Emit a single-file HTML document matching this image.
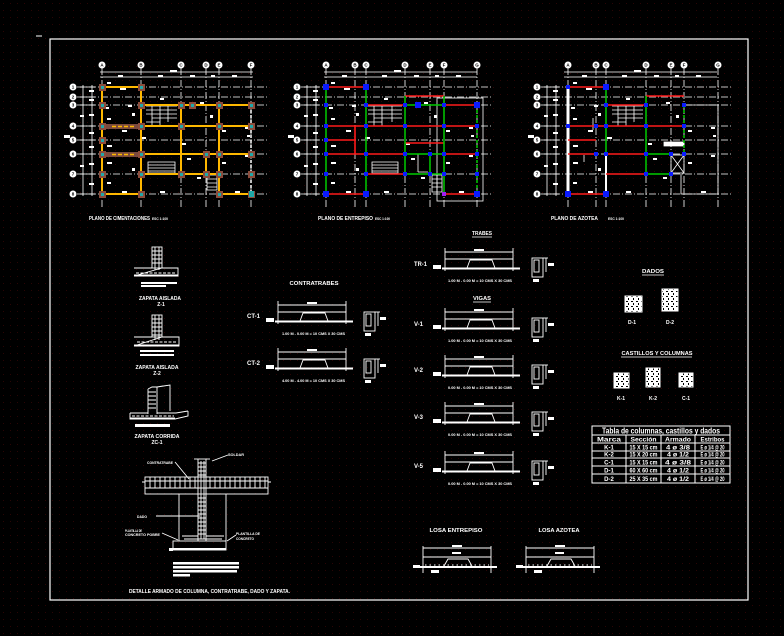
<!DOCTYPE html>
<html><head><meta charset="utf-8"><style>
html,body{margin:0;padding:0;background:#000;}
svg{display:block}
text{font-family:"Liberation Sans",sans-serif;font-weight:bold;fill:#fff}
text.b{fill:#000;font-size:4.5px}
</style></head><body>
<svg width="784" height="636" viewBox="0 0 784 636" xmlns="http://www.w3.org/2000/svg" xmlns:xlink="http://www.w3.org/1999/xlink">
<defs>
<pattern id="dots" width="7" height="7" patternUnits="userSpaceOnUse"><rect x="3" y="3" width="1" height="1" fill="#2a0505"/></pattern>
<pattern id="nz" width="5" height="5" patternUnits="userSpaceOnUse"><rect width="5" height="5" fill="#fff"/><rect x="1" y="1" width="2" height="1" fill="#000"/><rect x="3" y="3" width="1" height="2" fill="#000"/></pattern>

<g id="rows">
 <g stroke="#fff" stroke-width="0.8" stroke-dasharray="7 2 1 2" fill="none">
  <line x1="77" y1="87" x2="267" y2="87"/><line x1="77" y1="97" x2="267" y2="97"/>
  <line x1="77" y1="105" x2="267" y2="105"/><line x1="77" y1="126" x2="267" y2="126"/>
  <line x1="77" y1="140" x2="267" y2="140"/><line x1="77" y1="154" x2="267" y2="154"/>
  <line x1="77" y1="174" x2="267" y2="174"/><line x1="77" y1="194" x2="267" y2="194"/>
 </g>
 <g fill="#fff">
  <circle cx="73" cy="87" r="3.5"/><circle cx="73" cy="97" r="3.5"/><circle cx="73" cy="105" r="3.5"/><circle cx="73" cy="126" r="3.5"/>
  <circle cx="73" cy="140" r="3.5"/><circle cx="73" cy="154" r="3.5"/><circle cx="73" cy="174" r="3.5"/><circle cx="73" cy="194" r="3.5"/>
 </g>
 <g text-anchor="middle">
  <text class="b" x="73" y="88.6">1</text><text class="b" x="73" y="98.6">2</text><text class="b" x="73" y="106.6">3</text><text class="b" x="73" y="127.6">4</text>
  <text class="b" x="73" y="141.6">5</text><text class="b" x="73" y="155.6">6</text><text class="b" x="73" y="175.6">7</text><text class="b" x="73" y="195.6">8</text>
 </g>
 <g stroke="#fff" stroke-width="0.8">
  <line x1="83" y1="85" x2="83" y2="196"/><line x1="92" y1="85" x2="92" y2="196"/>
  <line x1="80" y1="87" x2="95" y2="87"/><line x1="80" y1="97" x2="95" y2="97"/><line x1="80" y1="105" x2="95" y2="105"/>
  <line x1="80" y1="126" x2="95" y2="126"/><line x1="80" y1="140" x2="95" y2="140"/><line x1="80" y1="154" x2="95" y2="154"/>
  <line x1="80" y1="174" x2="95" y2="174"/><line x1="80" y1="194" x2="95" y2="194"/>
  <line x1="100" y1="72" x2="253" y2="72"/><line x1="100" y1="77" x2="253" y2="77"/>
 </g>
 <g fill="#fff">
  <rect x="89" y="90" width="5" height="2"/><rect x="89" y="99" width="5" height="2"/><rect x="89" y="114" width="5" height="2"/>
  <rect x="89" y="132" width="5" height="2"/><rect x="89" y="146" width="5" height="2"/><rect x="89" y="163" width="5" height="2"/>
  <rect x="89" y="183" width="5" height="2"/><rect x="80" y="115" width="4" height="2"/><rect x="80" y="165" width="4" height="2"/>
  <rect x="64" y="135" width="6" height="3"/>
  <rect x="170" y="70" width="7" height="2"/><rect x="118" y="75" width="5" height="2"/><rect x="158" y="75" width="5" height="2"/>
  <rect x="190" y="75" width="5" height="2"/><rect x="211" y="75" width="4" height="2"/><rect x="232" y="75" width="5" height="2"/>
 </g>
</g>

<g id="tags" fill="#fff">
 <rect x="107" y="82" width="4" height="2"/><rect x="120" y="88" width="6" height="2"/><rect x="105" y="107" width="4" height="2"/>
 <rect x="160" y="98" width="4" height="2"/><rect x="128" y="105" width="4" height="2"/><rect x="107" y="118" width="4" height="2"/>
 <rect x="122" y="130" width="5" height="2"/><rect x="107" y="145" width="5" height="2"/><rect x="182" y="143" width="4" height="2"/>
 <rect x="187" y="158" width="4" height="2"/><rect x="107" y="162" width="5" height="2"/><rect x="107" y="182" width="4" height="2"/>
 <rect x="122" y="191" width="5" height="2"/><rect x="160" y="191" width="5" height="2"/><rect x="235" y="191" width="5" height="2"/>
 <rect x="222" y="130" width="4" height="2"/><rect x="245" y="127" width="4" height="2"/><rect x="222" y="162" width="4" height="2"/>
 <rect x="247" y="135" width="3" height="2"/><rect x="197" y="177" width="4" height="2"/><rect x="200" y="102" width="4" height="2"/>
 <rect x="141" y="137" width="5" height="2"/><rect x="245" y="155" width="4" height="2"/><rect x="132" y="113" width="3" height="3"/>
 <rect x="132" y="168" width="3" height="3"/><rect x="210" y="115" width="3" height="3"/>
</g>

<g id="bm" stroke="#fff" fill="none" stroke-width="0.9">
 <line x1="0" y1="-4" x2="0" y2="19"/><line x1="68" y1="-4" x2="68" y2="19"/>
 <line x1="0" y1="0" x2="68" y2="0"/>
 <line x1="0" y1="7" x2="68" y2="7"/>
 <line x1="-3" y1="16.5" x2="75" y2="16.5" stroke-width="2"/>
 <polyline points="22,16 25,8 47,8 50,16"/>
 <rect x="29" y="-3" width="10" height="2" fill="#fff" stroke="none"/>
 <rect x="-12" y="13" width="8" height="4" fill="#fff" stroke="none"/>
</g>
<g id="sec" stroke="#fff" fill="none" stroke-width="0.9">
 <rect x="0" y="0" width="11" height="19"/>
 <rect x="2" y="2" width="5" height="12"/>
 <line x1="14" y1="0" x2="14" y2="14"/><line x1="11" y1="0" x2="16" y2="0"/>
 <rect x="16" y="5" width="6" height="3" fill="#fff" stroke="none"/>
 <rect x="1" y="21" width="6" height="3" fill="#fff" stroke="none"/>
</g>
<g id="losa" stroke="#fff" fill="none" stroke-width="0.9">
 <line x1="0" y1="-2" x2="0" y2="25"/><line x1="68" y1="-2" x2="68" y2="25"/>
 <line x1="0" y1="0" x2="68" y2="0"/><line x1="0" y1="9" x2="68" y2="9"/>
 <line x1="-4" y1="19" x2="74" y2="19" stroke-width="2"/>
 <polyline points="21,18 25,11 45,11 49,18"/>
 <rect x="29" y="-3" width="10" height="2" fill="#fff" stroke="none"/>
 <rect x="-10" y="17" width="7" height="3" fill="#fff" stroke="none"/>
 <rect x="8" y="22" width="8" height="3" fill="#fff" stroke="none"/>
 <rect x="29" y="4" width="9" height="2" fill="#fff" stroke="none"/>
 <g stroke-dasharray="1.5 3"><line x1="2" y1="17" x2="66" y2="17"/></g>
</g>
</defs>

<rect width="784" height="636" fill="#000"/>
<rect width="784" height="636" fill="url(#dots)"/>

<!-- frame -->
<rect x="50" y="39" width="698" height="561" fill="none" stroke="#fff" stroke-width="1.2"/>
<line x1="36" y1="36" x2="42" y2="36" stroke="#fff" stroke-width="1"/>

<!-- ============ PLAN 1 ============ -->
<use xlink:href="#rows"/>
<g stroke="#fff" stroke-width="0.8" stroke-dasharray="7 2 1 2">
 <line x1="102" y1="68" x2="102" y2="207"/><line x1="141" y1="68" x2="141" y2="207"/><line x1="181" y1="68" x2="181" y2="207"/>
 <line x1="206" y1="68" x2="206" y2="207"/><line x1="219" y1="68" x2="219" y2="207"/><line x1="251" y1="68" x2="251" y2="207"/>
</g>
<g fill="#fff">
 <circle cx="102" cy="65" r="3.5"/><circle cx="141" cy="65" r="3.5"/><circle cx="181" cy="65" r="3.5"/>
 <circle cx="206" cy="65" r="3.5"/><circle cx="219" cy="65" r="3.5"/><circle cx="251" cy="65" r="3.5"/>
</g>
<g text-anchor="middle">
 <text class="b" x="102" y="66.6">A</text><text class="b" x="141" y="66.6">B</text><text class="b" x="181" y="66.6">C</text>
 <text class="b" x="206" y="66.6">D</text><text class="b" x="219" y="66.6">E</text><text class="b" x="251" y="66.6">F</text>
</g>
<use xlink:href="#tags"/>
<g stroke="#fff" stroke-width="0.8" fill="none">
 <path d="M146 106H177M146 110H177M146 114H177M152 118H177M146 122H160M160 106V126M152 106V126M168 106V122"/>
 <path d="M148 162H175V173H148ZM148 165H175M148 168H175M148 171H175"/>
 <path d="M207 175H217V190H207ZM207 179H217M207 183H217M207 187H217"/>
</g>
<g stroke="#ffb800" stroke-width="2" fill="none">
 <path d="M102 87V194M141 87V194M102 87H141M141 105H251M102 126H251M102 154H251M141 174H219M102 194H141M219 194H251M181 105V174M219 105V194M206 154V174"/>
</g>
<path d="M251 105V194" stroke="#fff" stroke-width="1.5" stroke-dasharray="3 2"/>
<g fill="#7a4a3e">
 <rect x="105" y="124" width="35" height="5"/><rect x="105" y="152" width="35" height="5"/>
</g>
<path d="M112 126.5H135M112 154.5H135" stroke="#ffb800" stroke-width="1.5" stroke-dasharray="4 2"/>
<g fill="#8c4c3c">
 <rect x="99" y="84" width="7" height="7"/><rect x="138" y="84" width="7" height="7"/>
 <rect x="99" y="102" width="7" height="7"/><rect x="138" y="102" width="7" height="7"/><rect x="178" y="102" width="7" height="7"/><rect x="189" y="102" width="7" height="7"/><rect x="216" y="102" width="7" height="7"/><rect x="248" y="102" width="7" height="7"/>
 <rect x="99" y="123" width="7" height="7"/><rect x="138" y="123" width="7" height="7"/><rect x="178" y="123" width="7" height="7"/><rect x="216" y="123" width="7" height="7"/><rect x="248" y="123" width="7" height="7"/>
 <rect x="99" y="137" width="7" height="7"/>
 <rect x="99" y="151" width="7" height="7"/><rect x="138" y="151" width="7" height="7"/><rect x="203" y="151" width="7" height="7"/><rect x="216" y="151" width="7" height="7"/><rect x="248" y="151" width="7" height="7"/>
 <rect x="99" y="171" width="7" height="7"/><rect x="138" y="171" width="7" height="7"/><rect x="178" y="171" width="7" height="7"/><rect x="203" y="171" width="7" height="7"/><rect x="216" y="171" width="7" height="7"/><rect x="248" y="171" width="7" height="7"/>
 <rect x="99" y="191" width="7" height="7"/><rect x="138" y="191" width="7" height="7"/><rect x="216" y="191" width="7" height="7"/><rect x="248" y="191" width="7" height="7"/>
</g>
<g fill="#20a8a8">
 <rect x="101" y="86" width="3" height="3"/><rect x="140" y="86" width="3" height="3"/>
 <rect x="101" y="104" width="3" height="3"/><rect x="140" y="104" width="3" height="3"/><rect x="180" y="104" width="3" height="3"/><rect x="191" y="104" width="3" height="3"/><rect x="218" y="104" width="3" height="3"/><rect x="250" y="104" width="3" height="3"/>
 <rect x="101" y="125" width="3" height="3"/><rect x="140" y="125" width="3" height="3"/><rect x="180" y="125" width="3" height="3"/><rect x="218" y="125" width="3" height="3"/><rect x="250" y="125" width="3" height="3"/>
 <rect x="101" y="139" width="3" height="3"/>
 <rect x="101" y="153" width="3" height="3"/><rect x="140" y="153" width="3" height="3"/><rect x="205" y="153" width="3" height="3"/><rect x="218" y="153" width="3" height="3"/><rect x="250" y="153" width="3" height="3"/>
 <rect x="101" y="173" width="3" height="3"/><rect x="140" y="173" width="3" height="3"/><rect x="180" y="173" width="3" height="3"/><rect x="205" y="173" width="3" height="3"/><rect x="218" y="173" width="3" height="3"/><rect x="250" y="173" width="3" height="3"/>
 <rect x="101" y="193" width="3" height="3"/><rect x="140" y="193" width="3" height="3"/><rect x="218" y="193" width="3" height="3"/><rect x="249" y="191" width="5" height="6"/>
</g>
<text x="89" y="220" font-size="5" textLength="61" lengthAdjust="spacingAndGlyphs">PLANO DE CIMENTACIONES</text>
<text x="152" y="220" font-size="3.5" textLength="16" lengthAdjust="spacingAndGlyphs">ESC 1:100</text>

<!-- ============ PLAN 2 ============ -->
<use xlink:href="#rows" x="224"/>
<g stroke="#fff" stroke-width="0.8" stroke-dasharray="7 2 1 2">
 <line x1="326" y1="68" x2="326" y2="207"/><line x1="355" y1="68" x2="355" y2="207"/><line x1="366" y1="68" x2="366" y2="207"/>
 <line x1="405" y1="68" x2="405" y2="207"/><line x1="430" y1="68" x2="430" y2="207"/><line x1="444" y1="68" x2="444" y2="207"/><line x1="477" y1="68" x2="477" y2="207"/>
</g>
<g fill="#fff">
 <circle cx="326" cy="65" r="3.5"/><circle cx="355" cy="65" r="3.5"/><circle cx="366" cy="65" r="3.5"/><circle cx="405" cy="65" r="3.5"/>
 <circle cx="430" cy="65" r="3.5"/><circle cx="444" cy="65" r="3.5"/><circle cx="477" cy="65" r="3.5"/>
</g>
<g text-anchor="middle">
 <text class="b" x="326" y="66.6">A</text><text class="b" x="355" y="66.6">B</text><text class="b" x="366" y="66.6">C</text><text class="b" x="405" y="66.6">D</text>
 <text class="b" x="430" y="66.6">E</text><text class="b" x="444" y="66.6">F</text><text class="b" x="477" y="66.6">G</text>
</g>
<use xlink:href="#tags" x="224"/>
<g stroke="#fff" stroke-width="0.8" fill="none">
 <rect x="437" y="98" width="46" height="103"/>
 <path d="M368 106H402M368 110H402M368 114H402M374 118H402M368 122H382M382 106V126M374 106V126M392 106V122"/>
 <path d="M372 162H398V173H372ZM372 165H398M372 168H398M372 171H398"/>
 <path d="M432 175H442V192H432ZM432 179H442M432 183H442M432 187H442M437 175V192"/>
 <path d="M418 154V172M418 172H428"/>
</g>
<g stroke="#ff1a1a" stroke-width="1.6" fill="none">
 <path d="M326 87H366M368 105H404M405 96H444M444 105H476M326 126H477M326 140H355M405 143H444M326 154H405M444 154H477M366 174H405M326 194H366M444 194H477M355 126V154"/>
</g>
<g stroke="#00cc00" stroke-width="1.5" fill="none">
 <path d="M326 87V194M366 87V194M405 96V174M444 96V194M405 105H444M405 154H444M405 174H444M430 154V174"/>
 <path d="M477 105V194" stroke-dasharray="3 2"/>
</g>
<g fill="#0a1aff">
 <rect x="323" y="84" width="6" height="6"/><rect x="363" y="84" width="6" height="6"/><rect x="323" y="191" width="6" height="6"/><rect x="363" y="191" width="6" height="6"/>
 <rect x="474" y="102" width="6" height="6"/><rect x="474" y="191" width="6" height="6"/><rect x="415" y="102" width="6" height="6"/>
 <rect x="324" y="103" width="4" height="4"/><rect x="364" y="103" width="4" height="4"/><rect x="403" y="103" width="4" height="4"/><rect x="442" y="103" width="4" height="4"/>
 <rect x="324" y="124" width="4" height="4"/><rect x="364" y="124" width="4" height="4"/><rect x="403" y="124" width="4" height="4"/><rect x="442" y="124" width="4" height="4"/><rect x="475" y="124" width="4" height="4"/>
 <rect x="324" y="138" width="4" height="4"/>
 <rect x="324" y="152" width="4" height="4"/><rect x="364" y="152" width="4" height="4"/><rect x="403" y="152" width="4" height="4"/><rect x="428" y="152" width="4" height="4"/><rect x="442" y="152" width="4" height="4"/><rect x="475" y="152" width="4" height="4"/>
 <rect x="324" y="172" width="4" height="4"/><rect x="364" y="172" width="4" height="4"/><rect x="403" y="172" width="4" height="4"/><rect x="428" y="172" width="4" height="4"/><rect x="442" y="172" width="4" height="4"/><rect x="475" y="172" width="4" height="4"/>
</g>
<rect x="442" y="192" width="4" height="4" fill="#a020f0"/>
<text x="318" y="220" font-size="5" textLength="55" lengthAdjust="spacingAndGlyphs">PLANO DE ENTREPISO</text>
<text x="375" y="220" font-size="3.5" textLength="15" lengthAdjust="spacingAndGlyphs">ESC 1:100</text>

<!-- ============ PLAN 3 ============ -->
<use xlink:href="#rows" x="464"/>
<g stroke="#fff" stroke-width="0.8" stroke-dasharray="7 2 1 2">
 <line x1="568" y1="68" x2="568" y2="207"/><line x1="596" y1="68" x2="596" y2="207"/><line x1="606" y1="68" x2="606" y2="207"/>
 <line x1="646" y1="68" x2="646" y2="207"/><line x1="671" y1="68" x2="671" y2="207"/><line x1="684" y1="68" x2="684" y2="207"/><line x1="718" y1="68" x2="718" y2="207"/>
</g>
<g fill="#fff">
 <circle cx="568" cy="65" r="3.5"/><circle cx="596" cy="65" r="3.5"/><circle cx="606" cy="65" r="3.5"/><circle cx="646" cy="65" r="3.5"/>
 <circle cx="671" cy="65" r="3.5"/><circle cx="684" cy="65" r="3.5"/><circle cx="718" cy="65" r="3.5"/>
</g>
<g text-anchor="middle">
 <text class="b" x="568" y="66.6">A</text><text class="b" x="596" y="66.6">B</text><text class="b" x="606" y="66.6">C</text><text class="b" x="646" y="66.6">D</text>
 <text class="b" x="671" y="66.6">E</text><text class="b" x="684" y="66.6">F</text><text class="b" x="718" y="66.6">G</text>
</g>
<use xlink:href="#tags" x="466"/>
<g stroke="#fff" stroke-width="0.8" fill="none">
 <path d="M612 106H643M612 110H643M612 114H643M618 118H643M612 122H626M626 106V126M618 106V126M634 106V122"/>
 <path d="M684 105H718V194M681 174V194H718"/>
 <rect x="671" y="155" width="13" height="18"/><path d="M671 155L684 173M684 155L671 173"/>
 <path d="M664 142H684V146H664Z" fill="#fff"/>
 <path d="M593 118V130M584 155V162"/>
</g>
<path d="M568 87V194" stroke="#fff" stroke-width="3"/>
<path d="M606 154V194" stroke="#fff" stroke-width="2"/>
<g stroke="#ff1a1a" stroke-width="1.6" fill="none">
 <path d="M568 87H606M606 105H646M646 96H684M568 126H684M568 140H596M568 154H596M606 154H646M606 174H646M568 194H606"/>
</g>
<g stroke="#00cc00" stroke-width="1.5" fill="none">
 <path d="M606 87V154M646 96V174M646 154H671M646 174H671"/>
 <path d="M684 105V154" stroke-dasharray="3 2"/>
</g>
<g fill="#0a1aff">
 <rect x="565" y="191" width="6" height="6"/><rect x="603" y="84" width="6" height="6"/><rect x="603" y="191" width="6" height="6"/>
 <rect x="566" y="85" width="4" height="4"/>
 <rect x="604" y="103" width="4" height="4"/><rect x="644" y="103" width="4" height="4"/><rect x="682" y="103" width="4" height="4"/>
 <rect x="566" y="124" width="4" height="4"/><rect x="594" y="124" width="4" height="4"/><rect x="604" y="124" width="4" height="4"/><rect x="644" y="124" width="4" height="4"/><rect x="682" y="124" width="4" height="4"/>
 <rect x="594" y="152" width="4" height="4"/><rect x="604" y="152" width="4" height="4"/><rect x="644" y="152" width="4" height="4"/><rect x="669" y="152" width="4" height="4"/><rect x="682" y="152" width="4" height="4"/>
 <rect x="644" y="172" width="4" height="4"/><rect x="669" y="172" width="4" height="4"/>
</g>
<text x="551" y="220" font-size="5" textLength="47" lengthAdjust="spacingAndGlyphs">PLANO DE AZOTEA</text>
<text x="608" y="220" font-size="3.5" textLength="16" lengthAdjust="spacingAndGlyphs">ESC 1:100</text>

<!-- ============ FOOTINGS ============ -->
<g stroke="#fff" stroke-width="0.9" fill="none">
 <rect x="152" y="247" width="10" height="21"/>
 <path d="M155 247V270M159 247V270M152 251H162M152 255H162M152 259H162M152 263H162"/>
 <path d="M134 268H152M162 268H178V276H134Z"/>
 <path d="M136 273H176" stroke-dasharray="3 1.5"/>
 <path d="M134 275.5H178" stroke-width="2"/>
 <rect x="152" y="315" width="10" height="22"/>
 <path d="M155 315V340M159 315V340M152 319H162M152 323H162M152 327H162M152 331H162M152 335H162"/>
 <path d="M134 337H152M162 337H179V346H134Z"/>
 <path d="M137 342H176" stroke-dasharray="3 1.5"/>
 <path d="M134 345.5H179" stroke-width="2"/>
 <path d="M148 389L152 387H157V414M148 389V414"/>
 <path d="M148 392H156M148 396H156M148 400H156M148 404H156M148 408H156"/>
 <path d="M157 387L170 385V411M157 387L163 386"/>
 <path d="M130 413H148M157 413H176L188 411M130 413V419H175L188 416V411"/>
 <path d="M130 418.5H175" stroke-width="2"/>
 <path d="M132 416H174" stroke-dasharray="3 1.5"/>
</g>
<g fill="#fff">
 <rect x="141" y="282" width="36" height="2"/><rect x="141" y="285" width="25" height="2"/>
 <rect x="140" y="350" width="34" height="2"/><rect x="140" y="354" width="34" height="2"/>
 <rect x="135" y="424" width="35" height="3"/>
</g>
<text x="160" y="300" font-size="5" text-anchor="middle" textLength="42" lengthAdjust="spacingAndGlyphs">ZAPATA AISLADA</text>
<text x="161" y="306" font-size="5" text-anchor="middle">Z-1</text>
<text x="157" y="369" font-size="5" text-anchor="middle" textLength="43" lengthAdjust="spacingAndGlyphs">ZAPATA AISLADA</text>
<text x="157" y="375" font-size="5" text-anchor="middle">Z-2</text>
<text x="157" y="438" font-size="5" text-anchor="middle" textLength="45" lengthAdjust="spacingAndGlyphs">ZAPATA CORRIDA</text>
<text x="157" y="444" font-size="5" text-anchor="middle">ZC-1</text>

<!-- ============ DETAIL ============ -->
<g stroke="#fff" stroke-width="0.9" fill="none">
 <rect x="145" y="477" width="123" height="17"/>
 <path d="M145 481H268M145 488H268"/>
 <path d="M150 477V488M155 477V488M160 477V488M165 477V488M170 477V488M175 477V488M180 477V488M185 477V488M190 477V488M195 477V488M210 477V488M215 477V488M220 477V488M225 477V488M230 477V488M235 477V488M240 477V488M245 477V488M250 477V488M255 477V488M260 477V488M265 477V488"/>
 <path d="M142 482H145M268 482H271"/>
 <path d="M198 459V541M206 459V541M201 461V539M204 461V539"/>
 <path d="M198 463H206M198 467H206M198 471H206M198 475H206M198 498H206M198 502H206M198 506H206M198 510H206M198 514H206M198 518H206M198 522H206M198 526H206M198 530H206M198 534H206"/>
 <path d="M194 459H210"/>
 <path d="M179 494V541M226 494V541"/>
 <path d="M182 536H198M206 536H224M184 539H222" />
 <rect x="173" y="541" width="53" height="9"/>
 <path d="M173 549H226" stroke-width="2"/>
 <path d="M212 461L228 455M175 462L189 479M156 516H200M162 533L178 540M236 535L227 541"/>
</g>
<g fill="#fff">
 <rect x="169" y="548" width="4" height="3"/>
 <rect x="173" y="562" width="66" height="2.5"/><rect x="173" y="566" width="66" height="2.5"/><rect x="173" y="570" width="64" height="2.5"/><rect x="173" y="574" width="17" height="2.5"/>
</g>
<text x="228" y="456" font-size="4" textLength="16" lengthAdjust="spacingAndGlyphs">SOLDAR</text>
<text x="147" y="464" font-size="4" textLength="26" lengthAdjust="spacingAndGlyphs">CONTRATRABE</text>
<text x="137" y="518" font-size="4" textLength="10" lengthAdjust="spacingAndGlyphs">DADO</text>
<text x="125" y="532" font-size="3.5" textLength="17" lengthAdjust="spacingAndGlyphs">PLANTILLA DE</text>
<text x="125" y="536" font-size="3.5" textLength="35" lengthAdjust="spacingAndGlyphs">CONCRETO POBRE</text>
<text x="236" y="535" font-size="3.5" textLength="24" lengthAdjust="spacingAndGlyphs">PLANTILLA DE</text>
<text x="236" y="540" font-size="3.5" textLength="18" lengthAdjust="spacingAndGlyphs">CONCRETO</text>
<text x="129" y="593" font-size="5" textLength="161" lengthAdjust="spacingAndGlyphs">DETALLE ARMADO DE COLUMNA, CONTRATRABE, DADO Y ZAPATA.</text>

<!-- ============ CONTRATRABES ============ -->
<text x="314" y="285" font-size="5.5" text-anchor="middle" textLength="49" lengthAdjust="spacingAndGlyphs">CONTRATRABES</text>
<text x="247" y="318" font-size="6.5" textLength="13" lengthAdjust="spacingAndGlyphs">CT-1</text>
<text x="247" y="365" font-size="6.5" textLength="13" lengthAdjust="spacingAndGlyphs">CT-2</text>
<use xlink:href="#bm" x="278" y="305"/>
<use xlink:href="#bm" x="278" y="352"/>
<use xlink:href="#sec" x="364" y="312"/>
<use xlink:href="#sec" x="364" y="359"/>
<text x="282" y="335" font-size="4" textLength="63" lengthAdjust="spacingAndGlyphs">1.00 M - 0.00 M = 10 CMS X 30 CMS</text>
<text x="282" y="382" font-size="4" textLength="63" lengthAdjust="spacingAndGlyphs">4.00 M - 4.00 M = 10 CMS X 30 CMS</text>

<!-- ============ TRABES / VIGAS ============ -->
<text x="482" y="235" font-size="5.5" text-anchor="middle" textLength="20" lengthAdjust="spacingAndGlyphs">TRABES</text>
<line x1="472" y1="237" x2="492" y2="237" stroke="#fff" stroke-width="0.8"/>
<text x="482" y="300" font-size="5.5" text-anchor="middle" textLength="18" lengthAdjust="spacingAndGlyphs">VIGAS</text>
<line x1="473" y1="302" x2="491" y2="302" stroke="#fff" stroke-width="0.8"/>
<text x="414" y="266" font-size="6.5" textLength="13" lengthAdjust="spacingAndGlyphs">TR-1</text>
<text x="414" y="326" font-size="6.5" textLength="9" lengthAdjust="spacingAndGlyphs">V-1</text>
<text x="414" y="372" font-size="6.5" textLength="9" lengthAdjust="spacingAndGlyphs">V-2</text>
<text x="414" y="419" font-size="6.5" textLength="9" lengthAdjust="spacingAndGlyphs">V-3</text>
<text x="414" y="468" font-size="6.5" textLength="9" lengthAdjust="spacingAndGlyphs">V-5</text>
<use xlink:href="#bm" x="445" y="252"/>
<use xlink:href="#bm" x="445" y="312"/>
<use xlink:href="#bm" x="445" y="359"/>
<use xlink:href="#bm" x="445" y="406"/>
<use xlink:href="#bm" x="445" y="455"/>
<use xlink:href="#sec" x="532" y="258"/>
<use xlink:href="#sec" x="532" y="318"/>
<use xlink:href="#sec" x="532" y="365"/>
<use xlink:href="#sec" x="532" y="412"/>
<use xlink:href="#sec" x="532" y="461"/>
<text x="448" y="282" font-size="4" textLength="64" lengthAdjust="spacingAndGlyphs">1.00 M - 0.00 M = 10 CMS X 30 CMS</text>
<text x="448" y="342" font-size="4" textLength="64" lengthAdjust="spacingAndGlyphs">1.00 M - 0.00 M = 10 CMS X 30 CMS</text>
<text x="448" y="389" font-size="4" textLength="64" lengthAdjust="spacingAndGlyphs">0.00 M - 0.00 M = 10 CMS X 30 CMS</text>
<text x="448" y="436" font-size="4" textLength="64" lengthAdjust="spacingAndGlyphs">0.00 M - 0.00 M = 10 CMS X 30 CMS</text>
<text x="448" y="485" font-size="4" textLength="64" lengthAdjust="spacingAndGlyphs">0.00 M - 0.00 M = 10 CMS X 30 CMS</text>

<!-- ============ LOSAS ============ -->
<text x="456" y="532" font-size="5.5" text-anchor="middle" textLength="53" lengthAdjust="spacingAndGlyphs">LOSA ENTREPISO</text>
<text x="559" y="532" font-size="5.5" text-anchor="middle" textLength="41" lengthAdjust="spacingAndGlyphs">LOSA AZOTEA</text>
<use xlink:href="#losa" x="423" y="548"/>
<use xlink:href="#losa" x="526" y="548"/>

<!-- ============ DADOS / CASTILLOS ============ -->
<text x="653" y="273" font-size="5.5" text-anchor="middle" textLength="22" lengthAdjust="spacingAndGlyphs">DADOS</text>
<line x1="642" y1="275" x2="664" y2="275" stroke="#fff" stroke-width="0.8"/>
<rect x="625" y="296" width="17" height="16" fill="url(#nz)" stroke="#fff"/>
<rect x="662" y="289" width="16" height="22" fill="url(#nz)" stroke="#fff"/>
<text x="632" y="324" font-size="5" text-anchor="middle">D-1</text>
<text x="670" y="324" font-size="5" text-anchor="middle">D-2</text>
<text x="657" y="355" font-size="5.5" text-anchor="middle" textLength="71" lengthAdjust="spacingAndGlyphs">CASTILLOS Y COLUMNAS</text>
<line x1="621" y1="357" x2="692" y2="357" stroke="#fff" stroke-width="0.8"/>
<rect x="614" y="373" width="15" height="15" fill="url(#nz)" stroke="#fff"/>
<rect x="646" y="368" width="14" height="19" fill="url(#nz)" stroke="#fff"/>
<rect x="679" y="373" width="14" height="14" fill="url(#nz)" stroke="#fff"/>
<text x="621" y="400" font-size="5" text-anchor="middle">K-1</text>
<text x="653" y="400" font-size="5" text-anchor="middle">K-2</text>
<text x="686" y="400" font-size="5" text-anchor="middle">C-1</text>

<!-- TABLE -->
<g stroke="#fff" fill="none">
 <rect x="592" y="426" width="138" height="57" stroke-width="1"/>
 <path d="M592 435H730M592 443H730M592 451H730M592 458H730M592 466H730M592 474H730" stroke-width="1"/>
 <path d="M626 435V483M661 435V483M695 435V483" stroke-width="1"/>
</g>
<text x="661" y="433.5" font-size="8" text-anchor="middle" textLength="118" lengthAdjust="spacingAndGlyphs" font-weight="normal">Tabla de columnas, castillos y dados</text>
<g font-size="6" text-anchor="middle">
 <text x="609" y="441.5" textLength="24" lengthAdjust="spacingAndGlyphs">Marca</text>
 <text x="643.5" y="441.5" textLength="26" lengthAdjust="spacingAndGlyphs">Sección</text>
 <text x="678" y="441.5" textLength="26" lengthAdjust="spacingAndGlyphs">Armado</text>
 <text x="712.5" y="441.5" textLength="24" lengthAdjust="spacingAndGlyphs">Estribos</text>
 <text x="609" y="449.5">K-1</text><text x="643.5" y="449.5" textLength="28" lengthAdjust="spacingAndGlyphs">15 X 15 cm</text><text x="678" y="449.5" textLength="24" lengthAdjust="spacingAndGlyphs">4 ø 3/8</text><text x="712.5" y="449.5" textLength="24" lengthAdjust="spacingAndGlyphs">E ø 1/4 @ 20</text>
 <text x="609" y="456.5">K-2</text><text x="643.5" y="456.5" textLength="28" lengthAdjust="spacingAndGlyphs">15 X 20 cm</text><text x="678" y="456.5" textLength="22" lengthAdjust="spacingAndGlyphs">4 ø 1/2</text><text x="712.5" y="456.5" textLength="24" lengthAdjust="spacingAndGlyphs">E ø 1/4 @ 20</text>
 <text x="609" y="464.5">C-1</text><text x="643.5" y="464.5" textLength="28" lengthAdjust="spacingAndGlyphs">15 X 15 cm</text><text x="678" y="464.5" textLength="26" lengthAdjust="spacingAndGlyphs">4 ø 3/8</text><text x="712.5" y="464.5" textLength="24" lengthAdjust="spacingAndGlyphs">E ø 1/4 @ 20</text>
 <text x="609" y="472.5">D-1</text><text x="643.5" y="472.5" textLength="28" lengthAdjust="spacingAndGlyphs">60 X 60 cm</text><text x="678" y="472.5" textLength="22" lengthAdjust="spacingAndGlyphs">4 ø 1/2</text><text x="712.5" y="472.5" textLength="24" lengthAdjust="spacingAndGlyphs">E ø 1/4 @ 20</text>
 <text x="609" y="481">D-2</text><text x="643.5" y="481" textLength="28" lengthAdjust="spacingAndGlyphs">25 X 35 cm</text><text x="678" y="481" textLength="22" lengthAdjust="spacingAndGlyphs">4 ø 1/2</text><text x="712.5" y="481" textLength="24" lengthAdjust="spacingAndGlyphs">E ø 1/4 @ 20</text>
</g>
</svg>
</body></html>
